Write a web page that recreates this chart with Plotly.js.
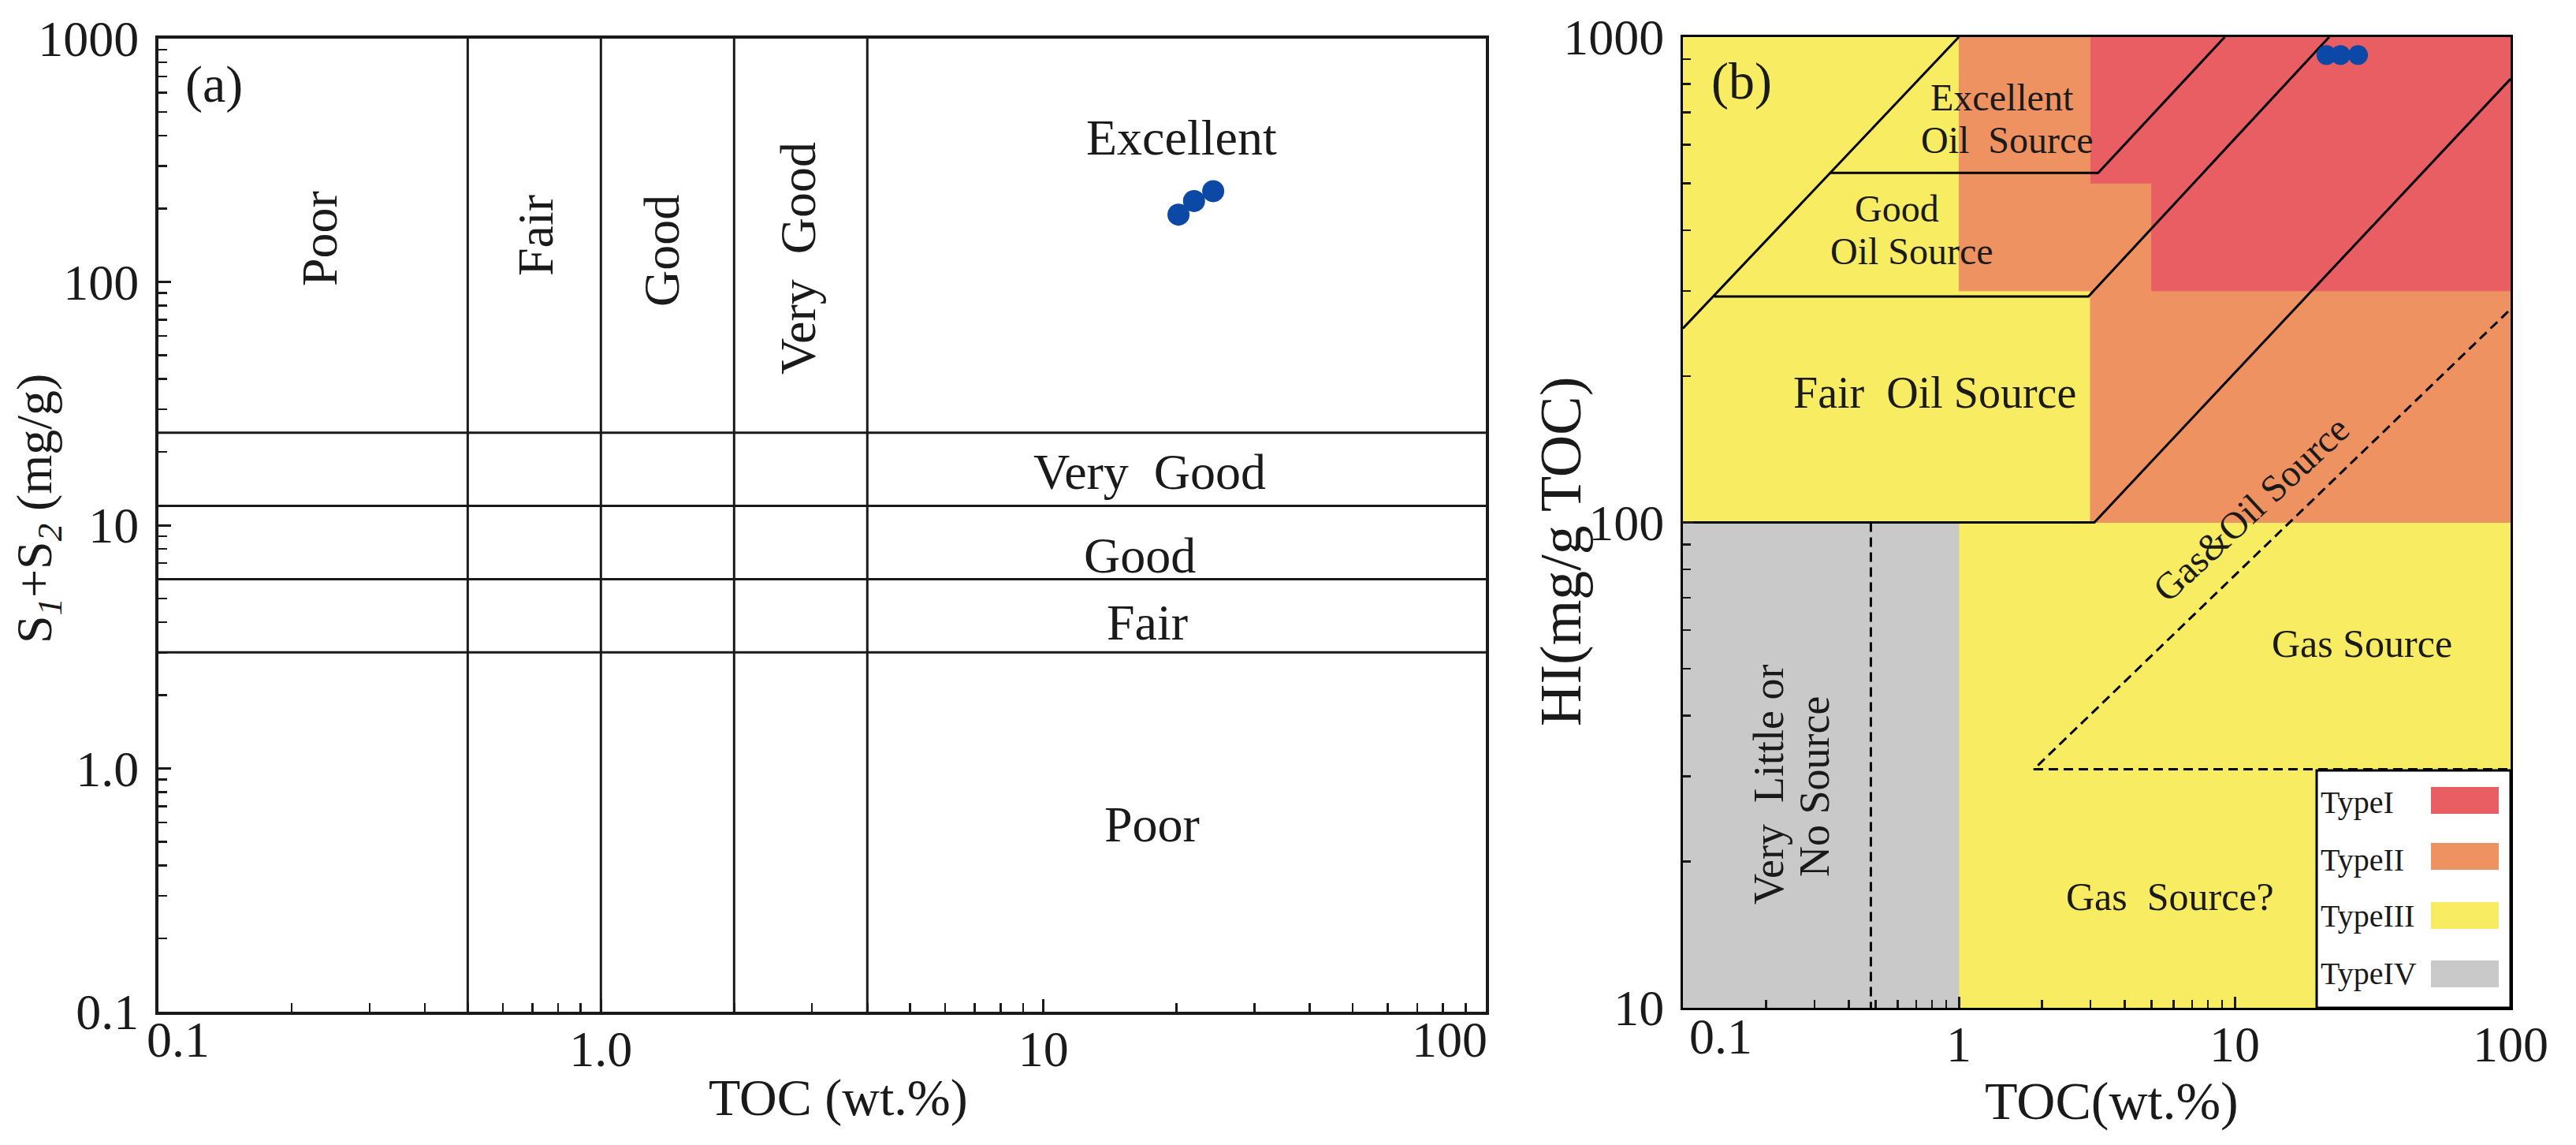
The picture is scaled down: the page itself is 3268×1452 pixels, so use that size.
<!DOCTYPE html>
<html><head><meta charset="utf-8">
<script src="https://cdn.plot.ly/plotly-3.0.1.min.js"></script>
<style>html,body{margin:0;padding:0;background:#fff}#chart{width:3268px;height:1452px}</style>
</head><body><div id="chart"></div>
<script>
// ---------------- Panel (a) data ----------------
const a_toc  = [20.2, 21.9, 24.2];          // TOC (wt.%)
const a_s1s2 = [189, 215, 236];             // S1+S2 (mg/g)
const a_tocBounds  = [0.5, 1, 2, 4];        // Poor | Fair | Good | Very Good | Excellent
const a_s1s2Bounds = [3, 6, 12, 24];
const a_xTickVals = [0.1, 1, 10, 100];
const a_xTickText = ['0.1', '1.0', '10', '100'];
const a_yTickVals = [0.1, 1, 10, 100, 1000];
const a_yTickText = ['0.1', '1.0', '10', '100', '1000'];

// ---------------- Panel (b) data ----------------
const b_toc = [21.5, 24.2, 28.0];           // TOC (wt.%)
const b_hi  = [918, 918, 918];              // HI (mg/g TOC)
// kerogen-type fill polygons (TOC, HI)
const typeI_x   = [3, 100, 100, 5, 5, 3];
const typeI_y   = [1000, 1000, 300, 300, 500, 500];
const typeII_x  = [1, 3, 3, 5, 5, 100, 100, 3, 3, 1];
const typeII_y  = [1000, 1000, 500, 500, 300, 300, 100, 100, 300, 300];
const typeIII_x = [0.1, 1, 1, 3, 3, 100, 100, 1, 1, 0.1];
const typeIII_y = [1000, 1000, 300, 300, 100, 100, 10, 10, 100, 100];
const typeIV_x  = [0.1, 1, 1, 0.1];
const typeIV_y  = [100, 100, 10, 10];
// source-potential boundary lines (TOC, HI)
const lineExcOil_x  = [0.1, 1];          const lineExcOil_y  = [251, 1000];
const lineGoodOil_x = [0.34, 3.2, 9.2];  const lineGoodOil_y = [525, 525, 1000];
const lineFairOil_x = [0.13, 2.95, 22];  const lineFairOil_y = [292, 292, 1000];
const lineGasOil_x  = [0.1, 3.1, 100];   const lineGasOil_y  = [100, 100, 820];
const dashNoSrc_x   = [0.48, 0.48];      const dashNoSrc_y   = [100, 10];
const dashGas_x     = [98, 1.87, 100];   const dashGas_y     = [272, 31, 31];
const b_xTickVals = [0.1, 1, 10, 100];
const b_xTickText = ['0.1', '1', '10', '100'];
const b_yTickVals = [10, 100, 1000];
const b_yTickText = ['10', '100', '1000'];
const legendNames  = ['TypeI', 'TypeII', 'TypeIII', 'TypeIV'];

// ---------------- styling ----------------
const W = 3268, H = 1452;
const SERIF = 'Liberation Serif, Times New Roman, serif';
const INK = '#1a1a1a';
const C = {I: '#E85E62', II: '#EF9262', III: '#F7EC62', IV: '#C9C9C9'};
const legendColors = [C.I, C.II, C.III, C.IV];

function minorTicks(lo, hi) {
  const v = [];
  for (let k = lo; k < hi; k++) for (let d = 2; d <= 9; d++) v.push(d * Math.pow(10, k));
  return v;
}

const traces = [];
// panel (a) boundaries
a_tocBounds.forEach(v => traces.push({x: [v, v], y: [0.1, 1000], xaxis: 'x', yaxis: 'y', mode: 'lines',
  line: {color: INK, width: 3}, hoverinfo: 'skip', showlegend: false}));
a_s1s2Bounds.forEach(v => traces.push({x: [0.1, 100], y: [v, v], xaxis: 'x', yaxis: 'y', mode: 'lines',
  line: {color: INK, width: 3}, hoverinfo: 'skip', showlegend: false}));
traces.push({x: a_toc, y: a_s1s2, xaxis: 'x', yaxis: 'y', mode: 'markers', name: 'samples',
  marker: {size: 28, color: '#0C48A6'}, showlegend: false});

// panel (b) fills
[[typeIII_x, typeIII_y, C.III], [typeIV_x, typeIV_y, C.IV], [typeII_x, typeII_y, C.II], [typeI_x, typeI_y, C.I]]
  .forEach(([xs, ys, col]) => traces.push({x: xs, y: ys, xaxis: 'x2', yaxis: 'y2', mode: 'lines',
    fill: 'toself', fillcolor: col, line: {color: col, width: 1}, hoverinfo: 'skip', showlegend: false}));
// panel (b) lines
[[lineExcOil_x, lineExcOil_y], [lineGoodOil_x, lineGoodOil_y], [lineFairOil_x, lineFairOil_y], [lineGasOil_x, lineGasOil_y]]
  .forEach(([xs, ys]) => traces.push({x: xs, y: ys, xaxis: 'x2', yaxis: 'y2', mode: 'lines',
    line: {color: '#000', width: 3}, hoverinfo: 'skip', showlegend: false}));
[[dashNoSrc_x, dashNoSrc_y], [dashGas_x, dashGas_y]]
  .forEach(([xs, ys]) => traces.push({x: xs, y: ys, xaxis: 'x2', yaxis: 'y2', mode: 'lines',
    line: {color: '#000', width: 3, dash: '12px,7px'}, hoverinfo: 'skip', showlegend: false}));
traces.push({x: b_toc, y: b_hi, xaxis: 'x2', yaxis: 'y2', mode: 'markers', name: 'samples',
  marker: {size: 25, color: '#0C48A6'}, showlegend: false});

function axis(extra) {
  return Object.assign({
    type: 'log', showline: true, linecolor: INK, linewidth: 4, mirror: true,
    ticks: 'inside', ticklen: 16, tickwidth: 3, tickcolor: INK, tickmode: 'array',
    tickfont: {family: SERIF, size: 64, color: INK}, showgrid: false, zeroline: false,
    ticklabelstandoff: 8
  }, extra);
}

// pixel -> paper helpers for text placement
function ann(text, px, py, size, extra) {
  return Object.assign({text: text, xref: 'paper', yref: 'paper', x: px / W, y: 1 - py / H,
    xanchor: 'center', yanchor: 'middle', showarrow: false,
    font: {family: SERIF, size: size, color: INK}}, extra || {});
}
const annotations = [
  // panel (a)
  ann('(a)', 271, 107, 66),
  ann('Poor', 405, 303, 64, {textangle: -90}),
  ann('Fair', 679, 299, 64, {textangle: -90}),
  ann('Good', 839, 318, 64, {textangle: -90}),
  ann('Very\u00a0 Good', 1012, 328, 64, {textangle: -90}),
  ann('Excellent', 1499, 174, 64),
  ann('Very\u00a0 Good', 1458, 598, 64),
  ann('Good', 1446, 704, 64),
  ann('Fair', 1455, 789, 64),
  ann('Poor', 1461, 1045, 64),
  ann('TOC (wt.%)', 1063, 1392, 66),
  ann('S<sub><i>1</i></sub>+S<sub><i>2</i></sub> (mg/g)', 48, 645, 64, {textangle: -90}),
  // panel (b)
  ann('(b)', 2209, 103, 66),
  ann('Excellent', 2540, 124, 48),
  ann('Oil\u00a0 Source', 2546, 178, 48),
  ann('Good', 2406, 264, 48),
  ann('Oil Source', 2425, 318, 48),
  ann('Fair\u00a0 Oil Source', 2454, 498, 56),
  ann('Gas&amp;Oil Source', 2855, 645, 48, {textangle: -43}),
  ann('Gas Source', 2996, 816, 50),
  ann('Gas\u00a0 Source?', 2753, 1137, 50),
  ann('Very\u00a0 Little or', 2244, 995, 54, {textangle: -90}),
  ann('No Source', 2302, 998, 54, {textangle: -90}),
  ann('TOC(wt.%)', 2679, 1396, 68),
  ann('HI(mg/g TOC)', 1980, 700, 74, {textangle: -90})
];
// edge tick labels that the original nudges inward, drawn as text beside their ticks
const edgeLabels = [
  {text: a_xTickText[0], px: 226, py: 1318},
  {text: a_xTickText[3], px: 1839, py: 1318},
  {text: b_xTickText[0], px: 2183, py: 1314}
];
edgeLabels.forEach(e => annotations.push(ann(e.text, e.px, e.py, 64)));
const a_xTickShown = a_xTickText.map((t, i) => (i === 0 || i === 3) ? '' : t);
const b_xTickShown = b_xTickText.map((t, i) => i === 0 ? '' : t);

// legend (b) — drawn inside the plot
const bx = px => (px - 2135) / 1050, by = py => (1278 - py) / 1231;
const legendTextY = [1017, 1090, 1161, 1234];
const swatchTop = [998, 1069, 1144, 1218];
const shapes = [{type: 'rect', xref: 'x2 domain', yref: 'y2 domain', x0: bx(2939), x1: 1, y0: 0, y1: by(977),
  fillcolor: '#fff', line: {color: '#000', width: 3}, layer: 'above'}];
legendNames.forEach((n, i) => {
  shapes.push({type: 'rect', xref: 'x2 domain', yref: 'y2 domain', x0: bx(3084), x1: bx(3170),
    y0: by(swatchTop[i] + 34), y1: by(swatchTop[i]), fillcolor: legendColors[i], line: {width: 0}, layer: 'above'});
  annotations.push(ann(n, 2942, legendTextY[i], 40, {xanchor: 'left'}));
});

const layout = {
  width: W, height: H, margin: {l: 0, r: 0, t: 0, b: 0},
  paper_bgcolor: '#fff', plot_bgcolor: '#fff', showlegend: false,
  xaxis: axis({domain: [201 / W, 1885 / W], range: [-1, 2], anchor: 'y', tickvals: a_xTickVals, ticktext: a_xTickShown,
    ticklabelstandoff: -12,
    minor: {tickmode: 'array', tickvals: minorTicks(-1, 2), ticks: 'inside', ticklen: 11, tickwidth: 2.5, tickcolor: INK, showgrid: false}}),
  yaxis: axis({domain: [1 - 1283 / H, 1 - 49 / H], range: [-1, 3], anchor: 'x', tickvals: a_yTickVals, ticktext: a_yTickText,
    minor: {tickmode: 'array', tickvals: minorTicks(-1, 3), ticks: 'inside', ticklen: 11, tickwidth: 2.5, tickcolor: INK, showgrid: false}}),
  xaxis2: axis({domain: [2135 / W, 3185 / W], range: [-1, 2], anchor: 'y2', linewidth: 3, linecolor: '#000',
    tickvals: b_xTickVals, ticktext: b_xTickShown, ticklen: 14, ticklabelstandoff: -12,
    minor: {tickmode: 'array', tickvals: minorTicks(-1, 2), ticks: 'inside', ticklen: 10, tickwidth: 2.5, tickcolor: INK, showgrid: false}}),
  yaxis2: axis({domain: [1 - 1278 / H, 1 - 47 / H], range: [1, 3], anchor: 'x2', linewidth: 3, linecolor: '#000',
    tickvals: b_yTickVals, ticktext: b_yTickText, ticklen: 14,
    minor: {tickmode: 'array', tickvals: minorTicks(1, 3), ticks: 'inside', ticklen: 10, tickwidth: 2.5, tickcolor: INK, showgrid: false}}),
  annotations: annotations,
  shapes: shapes
};

Plotly.newPlot('chart', traces, layout, {displayModeBar: false, staticPlot: true});
</script>
</body></html>
